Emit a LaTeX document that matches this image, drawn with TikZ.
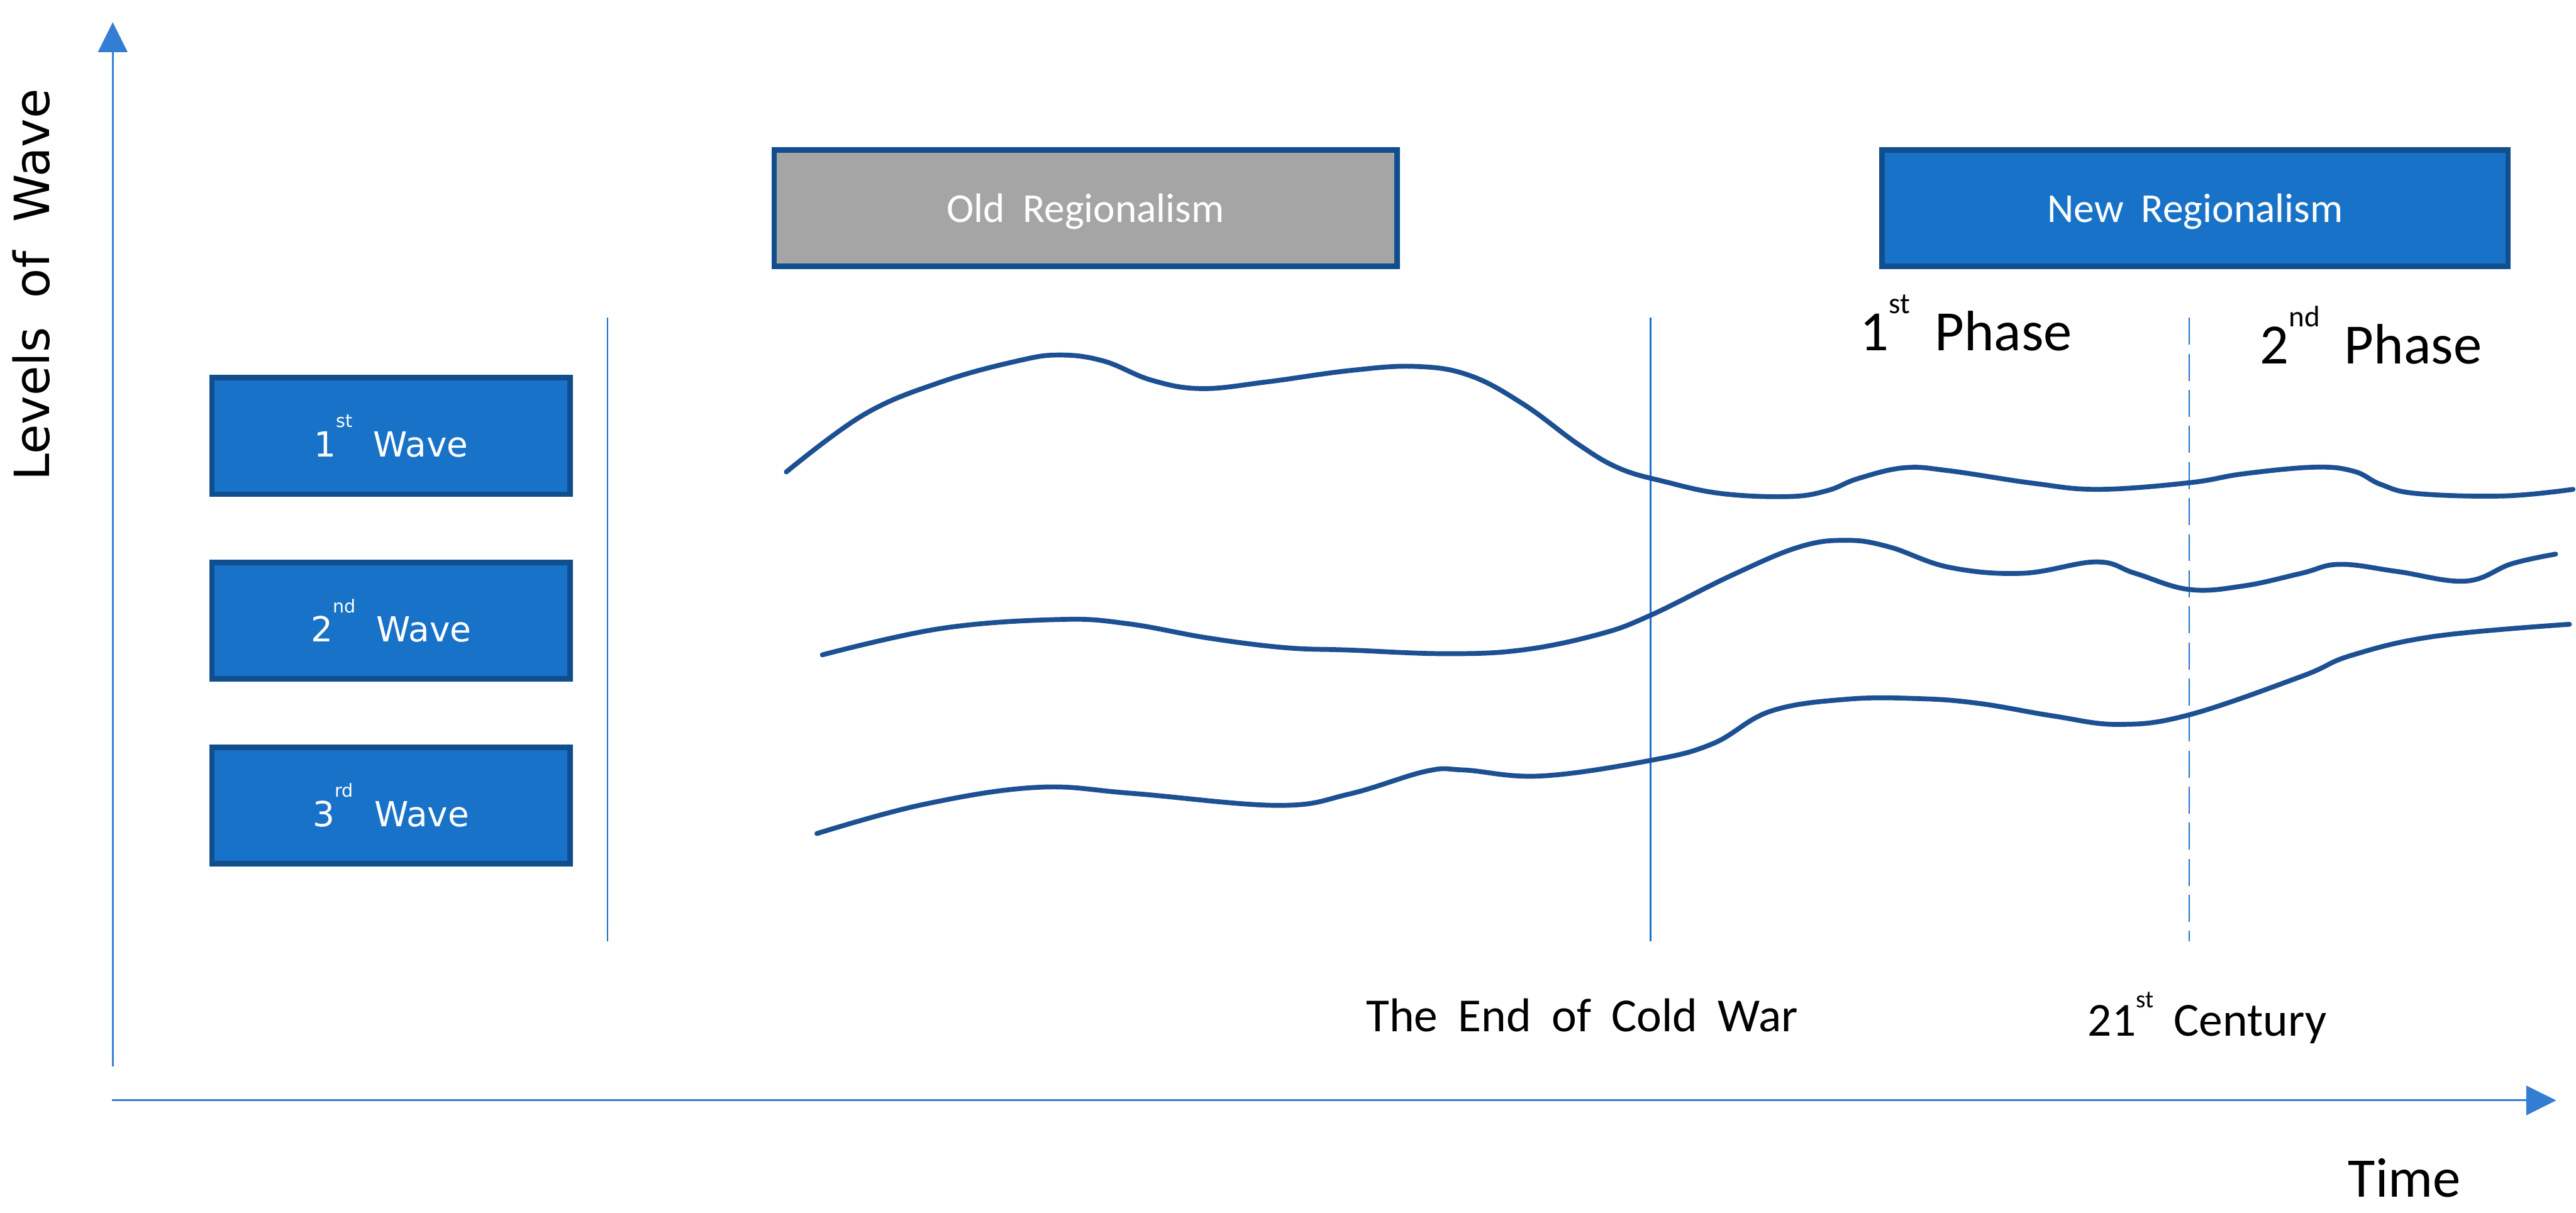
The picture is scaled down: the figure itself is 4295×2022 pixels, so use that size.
\documentclass[tikz,border=0pt]{standalone}
\usepackage{fontspec}
\usepackage{graphicx}
\usetikzlibrary{arrows.meta}
\newfontfamily\calfont[WordSpace=1.9]{Carlito}
\newfontfamily\verafont[WordSpace=1.25]{DejaVu Sans}
\newfontfamily\wavefont[WordSpace=1.9]{DejaVu Sans}
\newcommand{\ord}[2][0.66em]{\raisebox{#1}{\scalebox{0.52}{#2}}}
\definecolor{boxblue}{RGB}{24,114,200}
\definecolor{boxedge}{RGB}{17,78,142}
\definecolor{boxgrey}{RGB}{165,165,165}
\definecolor{waveline}{RGB}{28,80,146}
\definecolor{axisblue}{RGB}{52,125,213}
\definecolor{markblue}{RGB}{26,112,204}

\begin{document}
\begin{tikzpicture}[x=0.01cm,y=-0.01cm,
  wavebox/.style={draw=boxedge,line width=2.6pt,fill=boxblue,text=white,
    minimum width=5.97cm,minimum height=1.94cm,inner sep=0pt,
    font=\wavefont\fontsize{16.4}{19}\selectfont},
  erabox/.style={draw=boxedge,line width=2.6pt,text=white,text depth=0pt,
    minimum height=1.94cm,inner sep=0pt,
    font=\calfont\fontsize{19.5}{23}\selectfont},
  curve/.style={draw=waveline,line width=2.3pt,line cap=round},
  divider/.style={markblue,line width=0.7pt},
  axis/.style={axisblue,line width=0.9pt,-{Triangle[length=0.5cm,width=0.49cm]}},
  lbl/.style={inner sep=0pt,anchor=base,font=\calfont\fontsize{22.5}{26}\selectfont},
  phase/.style={lbl,font=\calfont\fontsize{27}{31}\selectfont}]
  \useasboundingbox (0,0) rectangle (4295,2022);

  % axes
  \coordinate (ybot) at (188,1778);
  \coordinate (ytop) at (188,37);
  \coordinate (xleft) at (187,1835);
  \coordinate (xright) at (4262,1835);
  \draw[axis] (ybot) -- (ytop);
  \draw[axis] (xleft) -- (xright);
  \node[rotate=90,anchor=base,inner sep=0pt,
    font=\verafont\fontsize{23}{27}\selectfont] (ylabel) at (82,475) {Levels of Wave};
  \node[lbl,font=\calfont\fontsize{26.5}{30}\selectfont] (xlabel) at (4009,1996) {Time};

  % wave boxes
  \node[wavebox] (wave1) at (652,727) {1\ord[0.85em]{st} Wave};
  \node[wavebox] (wave2) at (652,1035) {2\ord[0.85em]{nd} Wave};
  \node[wavebox] (wave3) at (652,1343) {3\ord[0.85em]{rd} Wave};

  % regionalism boxes
  \node[erabox,fill=boxgrey,minimum width=10.38cm] (oldreg) at (1810,347) {Old Regionalism};
  \node[erabox,fill=boxblue,minimum width=10.43cm] (newreg) at (3660,347) {New Regionalism};

  % dividers
  \coordinate (d0top) at (1013,530);
  \coordinate (d0bot) at (1013,1570);
  \coordinate (d1top) at (2752,530);
  \coordinate (d1bot) at (2752,1570);
  \coordinate (d2top) at (3650,530);
  \coordinate (d2bot) at (3650,1570);
  \draw[divider] (d0top) -- (d0bot);
  \draw[divider] (d1top) -- (d1bot);
  \draw[divider,dash pattern=on 12.8pt off 4.3pt] (d2top) -- (d2bot);

  % labels
  \node[phase] (phase1) at (3278,585) {1\ord{st} Phase};
  \node[phase] (phase2) at (3953,607) {2\ord{nd} Phase};
  \node[lbl] (coldwar) at (2638,1720) {The End of Cold War};
  \node[lbl] (century) at (3680,1728) {21\ord[0.6em]{st} Century};

  % wave 1
  \draw[curve] plot[smooth,tension=0.65] coordinates {(1311,787) (1441,691)
    (1569,637) (1696,602) (1767,592) (1840,602) (1920,634) (2003,648)
    (2111,637) (2250,618) (2360,611) (2450,626) (2540,674) (2633,742)
    (2700,781) (2775,803) (2870,823) (2983,828) (3047,818) (3098,798)
    (3175,780) (3250,785) (3391,806) (3499,816) (3650,805) (3741,790)
    (3860,779) (3925,786) (3970,808) (4030,823) (4175,827) (4290,816)};

  % wave 2
  \draw[curve] plot[smooth,tension=0.65] coordinates {(1371,1092) (1569,1048)
    (1767,1033) (1880,1040) (2015,1064) (2143,1080) (2250,1084) (2409,1090)
    (2537,1084) (2665,1058) (2752,1026) (2888,959) (3000,912) (3079,901)
    (3150,912) (3250,946) (3372,956) (3495,937) (3560,956) (3650,983)
    (3741,977) (3837,956) (3901,941) (3997,953) (4111,969) (4188,940)
    (4261,924)};

  % wave 3
  \draw[curve] plot[smooth,tension=0.65] coordinates {(1362,1390) (1537,1342)
    (1728,1313) (1888,1323) (2130,1343) (2250,1324) (2378,1286) (2441,1284)
    (2569,1294) (2752,1268) (2856,1240) (2952,1186) (3079,1166) (3200,1165)
    (3300,1173) (3424,1194) (3533,1208) (3650,1192) (3837,1128) (3920,1093)
    (4060,1061) (4284,1041)};
\end{tikzpicture}
\end{document}
